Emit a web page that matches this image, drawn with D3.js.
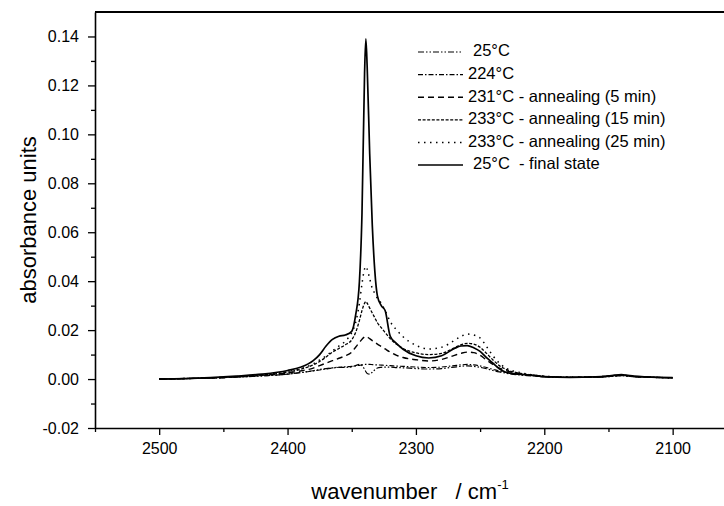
<!DOCTYPE html>
<html>
<head>
<meta charset="utf-8">
<script src="https://cdn.jsdelivr.net/npm/d3@7"></script>
<style>
  html, body { margin: 0; padding: 0; background: #fff; }
  svg { display: block; font-family: "Liberation Sans", Arial, sans-serif; }
</style>
</head>
<body>
<svg id="chart"></svg>
<script>
// Data
const wavenumbers = [2500, 2480, 2460, 2440, 2420, 2400, 2390, 2380, 2375, 2370, 2365, 2360, 2355, 2350, 2347, 2344, 2342, 2340, 2339, 2338, 2336, 2334, 2332, 2330, 2327, 2324, 2320, 2315, 2310, 2300, 2290, 2280, 2270, 2265, 2260, 2255, 2250, 2245, 2240, 2235, 2230, 2220, 2210, 2200, 2180, 2160, 2150, 2145, 2140, 2135, 2130, 2120, 2100]
const start25 = [0, 0.0002, 0.0004, 0.0008, 0.0013, 0.002, 0.0027, 0.0034, 0.0039, 0.0043, 0.0046, 0.0048, 0.0048, 0.005, 0.0055, 0.006, 0.0055, 0.004, 0.003, 0.0023, 0.002, 0.0028, 0.0038, 0.0045, 0.0048, 0.0049, 0.0049, 0.0047, 0.0046, 0.0043, 0.0041, 0.0043, 0.0049, 0.0052, 0.0054, 0.0052, 0.0048, 0.0042, 0.0035, 0.0029, 0.0024, 0.0017, 0.0013, 0.0009, 0.0007, 0.0008, 0.001, 0.0012, 0.0014, 0.0012, 0.001, 0.0008, 0.0005]
const heat224 = [0, 0.0002, 0.0004, 0.0008, 0.0013, 0.002, 0.0026, 0.0033, 0.0037, 0.0041, 0.0045, 0.0048, 0.005, 0.0052, 0.0054, 0.0056, 0.0058, 0.006, 0.006, 0.006, 0.006, 0.0059, 0.0058, 0.0058, 0.0057, 0.0056, 0.0055, 0.0053, 0.0052, 0.0049, 0.0047, 0.0049, 0.0055, 0.0058, 0.006, 0.0058, 0.0054, 0.0047, 0.004, 0.0033, 0.0027, 0.0019, 0.0014, 0.001, 0.0007, 0.0008, 0.001, 0.0012, 0.0014, 0.0012, 0.001, 0.0008, 0.0005]
const anneal5 = [0, 0.0002, 0.0004, 0.0009, 0.0015, 0.0025, 0.0033, 0.0045, 0.0055, 0.0065, 0.0075, 0.0085, 0.0095, 0.011, 0.013, 0.015, 0.0163, 0.0172, 0.0174, 0.0172, 0.0165, 0.0157, 0.015, 0.0143, 0.0133, 0.0123, 0.011, 0.0097, 0.0088, 0.0079, 0.0074, 0.008, 0.0097, 0.0105, 0.011, 0.0108, 0.0097, 0.0078, 0.006, 0.0045, 0.0035, 0.0022, 0.0015, 0.001, 0.0007, 0.0008, 0.0011, 0.0013, 0.0015, 0.0013, 0.001, 0.0008, 0.0005]
const anneal15 = [0, 0.0002, 0.0005, 0.001, 0.0017, 0.0028, 0.004, 0.0058, 0.0072, 0.009, 0.011, 0.0125, 0.014, 0.016, 0.019, 0.024, 0.028, 0.031, 0.0317, 0.031, 0.029, 0.027, 0.025, 0.023, 0.021, 0.019, 0.0165, 0.0142, 0.0125, 0.0107, 0.01, 0.0105, 0.0128, 0.014, 0.0146, 0.0143, 0.013, 0.0105, 0.0078, 0.0055, 0.004, 0.0025, 0.0017, 0.0011, 0.0007, 0.0008, 0.0012, 0.0015, 0.0017, 0.0014, 0.001, 0.0008, 0.0005]
const anneal25 = [0, 0.0002, 0.0005, 0.001, 0.0018, 0.003, 0.0042, 0.0062, 0.0078, 0.0095, 0.0115, 0.0135, 0.0155, 0.019, 0.023, 0.031, 0.039, 0.045, 0.046, 0.045, 0.041, 0.037, 0.035, 0.033, 0.031, 0.028, 0.0235, 0.02, 0.0173, 0.0138, 0.0123, 0.013, 0.0158, 0.0174, 0.0184, 0.018, 0.0168, 0.0133, 0.0095, 0.0065, 0.0045, 0.0028, 0.0018, 0.0012, 0.0008, 0.0009, 0.0012, 0.0015, 0.0017, 0.0014, 0.0011, 0.0008, 0.0005]
const final25 = [0, 0.0002, 0.0006, 0.0012, 0.002, 0.0035, 0.0048, 0.0075, 0.01, 0.0135, 0.0162, 0.0175, 0.018, 0.0195, 0.026, 0.04, 0.068, 0.125, 0.139, 0.128, 0.092, 0.063, 0.044, 0.034, 0.03, 0.028, 0.0175, 0.0145, 0.0122, 0.0095, 0.0086, 0.0095, 0.0125, 0.0135, 0.0137, 0.0128, 0.0113, 0.0088, 0.0065, 0.0042, 0.0028, 0.002, 0.0016, 0.001, 0.0007, 0.0009, 0.0013, 0.0016, 0.0018, 0.0015, 0.0012, 0.0009, 0.0006]
const seriesNames = ["25°C", "224°C", "231°C - annealing (5 min)", "233°C - annealing (15 min)", "233°C - annealing (25 min)", "25°C  - final state"]
const seriesValues = [start25, heat224, anneal5, anneal15, anneal25, final25]
const xTicks = [2500, 2400, 2300, 2200, 2100]
const yTicks = [-0.02, 0, 0.02, 0.04, 0.06, 0.08, 0.10, 0.12, 0.14]

// Line styles per series
const dashes = ["6,2,1.5,2,1.5,2", "5,2,1.5,2", "6,4", "3,1.6", "1.5,4.5", null]
const widths = [1.2, 1.1, 1.4, 1.3, 1.5, 1.7]

// Create SVG
const width = 724, height = 506
const margin = { top: 12, right: 0, bottom: 78, left: 95 }
const svg = d3.select("#chart").attr("width", width).attr("height", height)

// Scales
const x = d3.scaleLinear().domain([2550, 2060]).range([margin.left, width - margin.right])
const y = d3.scaleLinear().domain([-0.02, 0.15]).range([height - margin.bottom, margin.top])

// Axes
const xAxis = svg.append("g")
  .attr("transform", `translate(0,${height - margin.bottom})`)
  .call(d3.axisBottom(x).tickValues(xTicks).tickSize(7).tickSizeOuter(0).tickPadding(8).tickFormat(d3.format("d")))
xAxis.selectAll("text").attr("font-size", "16px").attr("font-family", null).attr("fill", "#000")
svg.append("g")
  .attr("transform", `translate(0,${height - margin.bottom})`)
  .call(d3.axisBottom(x).tickValues(d3.range(2550, 2060, -50).filter(v => v % 100 !== 0)).tickSize(4).tickFormat(""))
  .call(g => g.select(".domain").remove())

const yAxis = svg.append("g")
  .attr("transform", `translate(${margin.left},0)`)
  .call(d3.axisLeft(y).tickValues(yTicks).tickSize(7).tickSizeOuter(0).tickPadding(9).tickFormat(d => d.toFixed(2)))
yAxis.selectAll("text").attr("font-size", "16px").attr("font-family", null).attr("fill", "#000")
svg.append("g")
  .attr("transform", `translate(${margin.left},0)`)
  .call(d3.axisLeft(y).tickValues(d3.range(-0.01, 0.15, 0.02)).tickSize(4).tickFormat(""))
  .call(g => g.select(".domain").remove())

svg.selectAll(".domain").attr("stroke-width", 1.6)
svg.selectAll(".tick line").attr("stroke-width", 1.3)

// Top frame line
svg.append("line")
  .attr("x1", margin.left).attr("x2", width)
  .attr("y1", margin.top).attr("y2", margin.top)
  .attr("stroke", "#000").attr("stroke-width", 2)

// Axis titles
svg.append("text")
  .attr("transform", `translate(30,${y(0.065)}) rotate(-90)`)
  .attr("text-anchor", "middle")
  .attr("dominant-baseline", "middle")
  .attr("font-size", "22px")
  .text("absorbance units")

const xTitle = svg.append("text")
  .attr("x", 410).attr("y", 499)
  .attr("text-anchor", "middle")
  .attr("font-size", "22px")
  .attr("xml:space", "preserve")
xTitle.append("tspan").text("wavenumber   / cm")
xTitle.append("tspan").attr("dy", -10).attr("font-size", "13px").text("-1")

// Render curves
const line = d3.line()
  .x((_, i) => x(wavenumbers[i]))
  .y(d => y(d))
  .curve(d3.curveMonotoneX)

svg.append("g")
  .attr("fill", "none")
  .attr("stroke", "#000")
  .selectAll("path")
  .data(seriesValues)
  .join("path")
  .attr("stroke-width", (_, i) => widths[i])
  .attr("stroke-dasharray", (_, i) => dashes[i])
  .attr("stroke-linejoin", "round")
  .attr("d", line)

// Legend
const legend = svg.append("g").attr("transform", "translate(418,52)")
seriesNames.forEach((name, i) => {
  const row = legend.append("g").attr("transform", `translate(0,${i * 22.6})`)
  row.append("line")
    .attr("x1", 0).attr("x2", 45)
    .attr("stroke", "#000")
    .attr("stroke-width", widths[i])
    .attr("stroke-dasharray", dashes[i])
  row.append("text")
    .attr("x", name.startsWith("25°C") ? 55 : 50)
    .attr("dominant-baseline", "middle")
    .attr("font-size", "16.5px")
    .attr("xml:space", "preserve")
    .text(name)
})
</script>
</body>
</html>
